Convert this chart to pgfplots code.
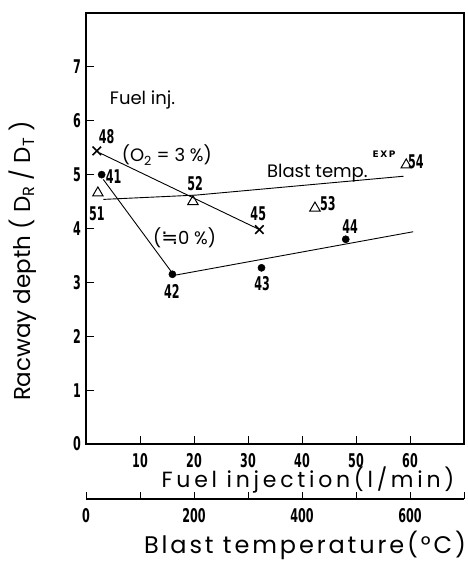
\documentclass[border=0pt]{standalone}
\usepackage{graphicx}
\usepackage{pgfplots}
\pgfplotsset{compat=1.18}
\usepackage{fontspec}
\setmainfont{Poppins}
\newfontfamily\numfont{DejaVu Sans}
\newfontfamily\symfont{DejaVu Sans}
\newcommand\num[1]{\scalebox{0.62}[1.05]{\fontsize{18}{18}\selectfont\numfont\bfseries #1}}
\begin{document}
\begin{tikzpicture}
\useasboundingbox (0,0) rectangle (467pt,561pt);
\begin{axis}[
  at={(86pt,117pt)}, anchor=south west,
  scale only axis, width=378pt, height=431pt,
  xmin=0, xmax=70, ymin=0, ymax=8,
  axis line style={line width=1.3pt},
  tick pos=left, tick align=inside, major tick length=8pt,
  tick style={line width=1pt, black},
  xtick={10,20,30,40,50,60},
  xticklabels={\num{10},\num{20},\num{30},\num{40},\num{50},\num{60}},
  ytick={0,1,2,3,4,5,6,7},
  yticklabels={\num{0},\num{1},\num{2},\num{3},\num{4},\num{5},\num{6},\num{7}},
  xticklabel style={inner sep=0pt, anchor=north, yshift=-9pt},
  yticklabel style={inner sep=0pt, anchor=east, xshift=-5pt},
  clip=false,
]
\addplot[black, line width=0.9pt] coordinates {(2.6,5.40) (31.9,3.99)};
\addplot[black, line width=0.9pt] coordinates {(3.2,4.54) (20.4,4.62) (58.8,4.97)};
\addplot[black, line width=0.9pt] coordinates {(3.2,4.91) (16.3,3.13) (60.6,3.94)};
\addplot[only marks, black, mark=x, mark size=6pt, mark options={line width=1.6pt}] coordinates {(2.0,5.44) (32.1,3.98)};
\addplot[only marks, black, mark=*, mark size=3.6pt] coordinates {(2.9,5.0) (16.0,3.15) (32.5,3.27) (48.1,3.80)};
\addplot[only marks, black, mark=triangle, mark size=6pt, mark options={line width=1pt}] coordinates {(2.2,4.66) (19.8,4.5) (42.4,4.38) (59.3,5.18)};
\node at (axis cs:3.8,5.70) {\num{48}};
\node at (axis cs:5.1,4.97) {\num{41}};
\node at (axis cs:2.0,4.27) {\num{51}};
\node at (axis cs:20.2,4.84) {\num{52}};
\node at (axis cs:31.9,4.27) {\num{45}};
\node at (axis cs:44.8,4.47) {\num{53}};
\node at (axis cs:61.1,5.24) {\num{54}};
\node at (axis cs:48.9,4.03) {\num{44}};
\node at (axis cs:15.9,2.84) {\num{42}};
\node at (axis cs:32.6,2.97) {\num{43}};
\node at (axis cs:55.2,5.38) {\numfont\bfseries\fontsize{9}{9}\selectfont E\,X\,P};
\node[anchor=west, inner sep=0pt] at (axis cs:4.4,6.38) {\fontsize{18}{18}\selectfont Fuel inj.};
\node[anchor=west, inner sep=0pt] at (axis cs:6.6,5.36) {\fontsize{18}{18}\selectfont (O\textsubscript{2} = 3 \%)};
\node[anchor=west, inner sep=0pt] at (axis cs:33.5,5.03) {\fontsize{18}{18}\selectfont Blast temp.};
\node[anchor=west, inner sep=0pt] at (axis cs:12.4,3.82) {\fontsize{18}{18}\selectfont ({\symfont\fontsize{20}{20}\selectfont ≒}0 \%)};
\end{axis}
\begin{axis}[
  at={(86pt,62pt)}, anchor=south west,
  scale only axis, width=378pt, height=10pt,
  xmin=0, xmax=700, ymin=0, ymax=1,
  axis x line=bottom, axis y line=none,
  axis line style={-, line width=1.3pt},
  tick align=inside, major tick length=7pt,
  tick style={line width=1pt, black},
  xtick={0,100,200,300,400,500,600,700},
  xticklabels={\num{0},,\num{200},,\num{400},,\num{600},},
  xticklabel style={inner sep=0pt, anchor=north, yshift=-9pt},
]
\addplot[draw=none] coordinates {(0,0)};
\end{axis}
\node[anchor=base, inner sep=0pt] at (308pt,73pt) {\fontsize{22}{22}\selectfont\addfontfeatures{LetterSpace=17}Fuel injection(l/min)};
\node[anchor=base, inner sep=0pt] at (305pt,8pt) {\fontsize{24}{24}\selectfont\addfontfeatures{LetterSpace=12}Blast temperature(°C)};
\node[rotate=90, inner sep=0pt] at (23pt,300pt) {\fontsize{23}{23}\selectfont Racway depth ( D\textsubscript{R} / D\textsubscript{T} )};
\end{tikzpicture}
\end{document}
